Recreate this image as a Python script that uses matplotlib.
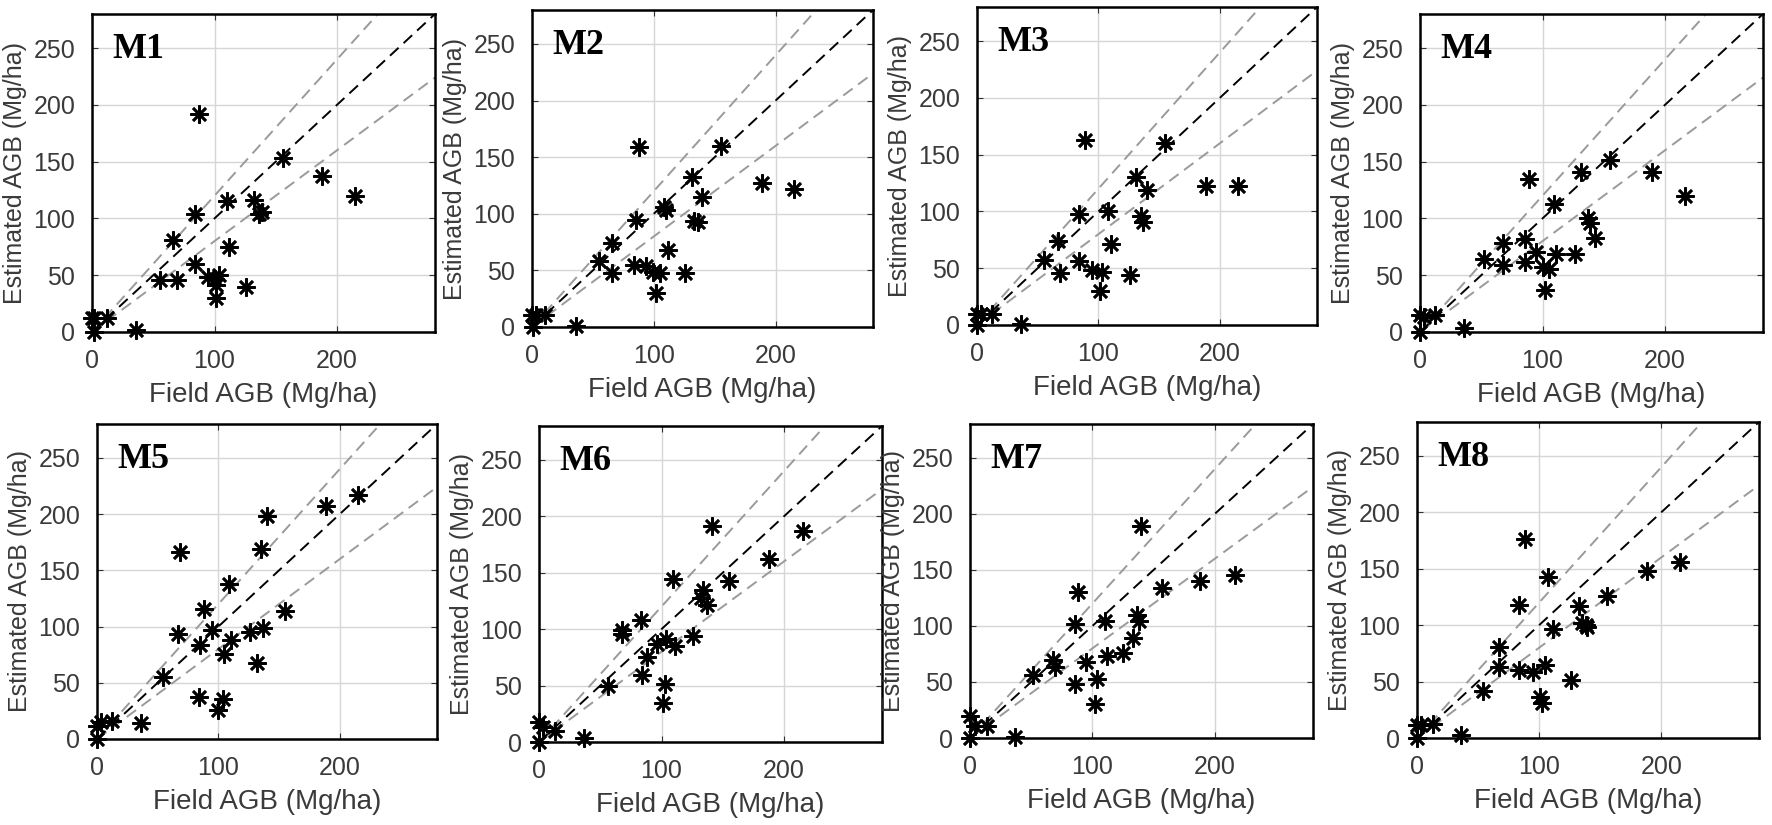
import numpy as np
import matplotlib.pyplot as plt

# field AGB (x) and estimated AGB (y) for each model
field_m1 = [87.5, 156, 188, 215, 110.5, 132, 136, 139, 84, 66.4, 112, 84, 55.5, 69.6, 95, 100, 104, 101, 101, 125.5, 0, 2, 12, 36, 2]
est_m1 = [192, 153, 137, 120, 115, 116, 104, 106, 104, 80.6, 75, 60, 46, 46, 48, 47, 50, 41, 30, 40, 12.6, 12, 12, 1.5, 0]

field_m2 = [88, 155, 131, 189, 215, 140, 108, 110, 85.5, 133, 136, 66, 111.5, 55, 66, 84, 94, 99, 105, 126, 102, 0, 3, 11, 36, 1]
est_m2 = [159, 159.5, 132.5, 127, 122, 115, 106, 103, 94.5, 94, 93, 74, 68, 58, 48, 55, 53.5, 49, 48, 48, 30, 11, 11, 11, 1, 0]

field_m3 = [89, 155, 131, 188.5, 215, 140, 108, 84, 135, 137, 67, 110, 55, 84, 68, 94.5, 103, 126, 101, 0, 3, 12, 36, 0]
est_m3 = [163, 160, 130, 122, 122, 119, 100, 98, 96, 91, 74, 71, 57.5, 56, 46, 48.5, 47, 44, 29.5, 10, 10, 10, 1, 0]

field_m4 = [89, 155.5, 131.5, 189, 216, 109.5, 137, 139, 142.5, 85.5, 68, 95, 111, 126.5, 52, 68, 85.5, 100, 105, 102, 0, 3, 12, 36, 0]
est_m4 = [135, 151.5, 141, 141, 120, 113, 100, 96, 83, 82, 78.6, 70, 69, 69, 64.5, 58.6, 61.6, 57, 55.7, 37, 14.6, 13, 14.6, 3.5, 0]

field_m5 = [68, 140, 188.5, 215, 135, 109, 88, 155, 67, 95, 136.5, 126, 85, 110, 104.5, 131.5, 54, 84, 103.5, 100, 36, 12, 0, 3, 0]
est_m5 = [166, 198, 207, 216.5, 169, 138, 116, 114, 93.5, 97, 99, 95, 84, 88, 76, 68, 55, 37.5, 36, 26, 14, 16, 12, 15, 0]

field_m6 = [141, 215.5, 188, 109.5, 155, 134, 132.6, 137, 83, 67.4, 68, 126, 104, 111, 96, 88, 84, 56.5, 102.7, 101, 0, 3.5, 13, 37, 0]
est_m6 = [191, 187, 162, 144, 142.5, 135, 128, 121, 107.7, 99, 96, 93.5, 91.4, 85.5, 87, 75, 59, 49.5, 51.6, 35, 17.7, 13, 10, 3.5, 0]

field_m7 = [140, 216.6, 187.5, 156.7, 88.5, 86, 110, 136, 137.6, 133, 125, 111.7, 95, 67.6, 69.5, 51.8, 86, 103.5, 102, 0, 4, 13.6, 36.8, 0]
est_m7 = [189, 145, 140, 134, 130, 102, 104, 110, 104.4, 89, 76, 72.8, 67.5, 70, 63, 56.5, 48, 52.7, 30, 20, 11, 11, 1, 0]

field_m8 = [88.3, 107.6, 215.5, 188, 155.7, 83.7, 132.6, 135, 138, 139, 111, 67.4, 67.4, 83.7, 94.6, 105, 125.8, 53.8, 100.5, 102, 0, 3.5, 13, 36, 0]
est_m8 = [176, 142.5, 156, 148, 126, 118, 117, 102, 100, 98, 97, 80.5, 63, 60, 58.4, 64.3, 51.6, 42, 36.3, 31, 11.8, 11.8, 12.7, 2.4, 0]

names = ['M1', 'M2', 'M3', 'M4', 'M5', 'M6', 'M7', 'M8']
fields = [field_m1, field_m2, field_m3, field_m4, field_m5, field_m6, field_m7, field_m8]
ests = [est_m1, est_m2, est_m3, est_m4, est_m5, est_m6, est_m7, est_m8]

# axes boxes in pixels: left, top, right, bottom
boxes = [(92, 14, 435, 332), (532, 10, 873, 327), (977, 7, 1317, 325), (1420, 14, 1763, 332),
         (97, 424, 437, 739), (539, 426, 882, 742), (970, 424, 1313, 738), (1417, 422, 1759, 738)]

W, H = 1772, 825
plt.rcParams['font.family'] = ['Liberation Sans', 'DejaVu Sans']
txt = '#3a3a3a'

fig = plt.figure(figsize=(W/100, H/100), dpi=100)
lim = 280
ref = np.array([0, lim])

for name, fx, ey, (l, t, r, b) in zip(names, fields, ests, boxes):
    ax = fig.add_axes([l/W, 1 - b/H, (r - l)/W, (b - t)/H])
    ax.plot(ref, 1.2*ref, ls=(0, (6, 3.5)), color='#9a9a9a', lw=1.4)
    ax.plot(ref, 0.8*ref, ls=(0, (6, 3.5)), color='#9a9a9a', lw=1.4)
    ax.plot(ref, ref, ls=(0, (6, 3.5)), color='black', lw=1.4)
    ax.plot(fx, ey, ls='none', marker=(8, 2, 0), ms=13, mew=1.9, color='black', clip_on=False, zorder=5)
    ax.set_xlim(0, lim)
    ax.set_ylim(0, lim)
    ax.set_xticks([0, 100, 200])
    ax.set_yticks([0, 50, 100, 150, 200, 250])
    ax.grid(True, color='#d6d6d6', lw=1)
    ax.set_axisbelow(True)
    ax.tick_params(direction='in', length=4, labelsize=18, labelcolor=txt, pad=12,
                   top=True, right=True, color='#333333')
    for s in ax.spines.values():
        s.set_linewidth(1.8)
    ax.set_xlabel('Field AGB (Mg/ha)', fontsize=20, color=txt, labelpad=7)
    ax.set_ylabel('Estimated AGB (Mg/ha)', fontsize=18, color=txt, labelpad=5)
    ax.text(0.06, 0.94, name, transform=ax.transAxes, ha='left', va='top',
            fontsize=26, fontweight='bold', family='Liberation Serif', color='black')

fig.savefig('out.png', dpi=100)
